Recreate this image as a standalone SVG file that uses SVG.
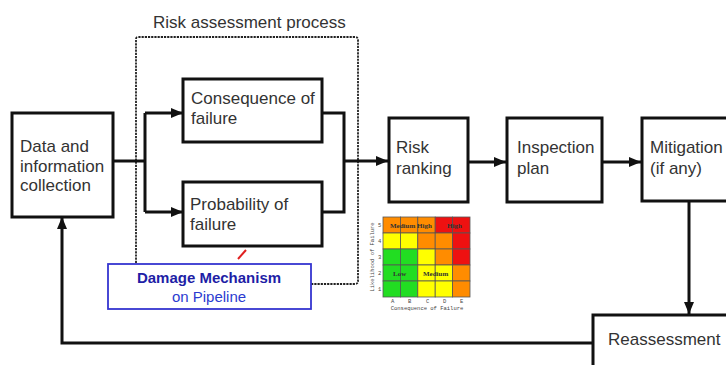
<svg xmlns="http://www.w3.org/2000/svg" width="726" height="365" viewBox="0 0 726 365">
  <style>
    .box { fill: #ffffff; stroke: #111111; stroke-width: 3; }
    .lbl { font-family: "Liberation Sans", Arial, sans-serif; font-size: 17px; fill: #333333; }
    .wire { fill: none; stroke: #111111; stroke-width: 3; }
    .dots { fill: none; stroke: #222222; stroke-width: 1.8; stroke-dasharray: 2.2 1; }
    .cell { stroke: #555555; stroke-width: 0.8; }
    .tiny { font-family: "Liberation Mono", "DejaVu Sans Mono", monospace; font-size: 5.5px; fill: #444444; }
    .mlab { font-family: "Liberation Serif", "Times New Roman", serif; font-size: 7px; font-weight: bold; fill: #333333; }
  </style>
  <defs>
    <marker id="arrow" viewBox="0 0 12 10" refX="12" refY="5" markerWidth="12" markerHeight="10" markerUnits="userSpaceOnUse" orient="auto">
      <path d="M0,0 L12,5 L0,10 z" fill="#111111"/>
    </marker>
  </defs>

  <rect width="726" height="365" fill="#ffffff"/>

  <!-- risk assessment process frame -->
  <g id="process-frame">
    <path class="dots" d="M136,263 V39 Q136,37 138,37 H355 Q358,37 358,40 V281 Q358,284 355,284 H311"/>
    <text class="lbl" x="153" y="28">Risk assessment process</text>
  </g>

  <!-- connectors -->
  <g id="connectors">
    <path class="wire" d="M113,161 H145"/>
    <path class="wire" d="M145,113 V212"/>
    <path class="wire" d="M145,113 H183" marker-end="url(#arrow)"/>
    <path class="wire" d="M145,212 H183" marker-end="url(#arrow)"/>
    <path class="wire" d="M322,113 H344 V212 H322"/>
    <path class="wire" d="M344,161 H388" marker-end="url(#arrow)"/>
    <path class="wire" d="M468,162 H506" marker-end="url(#arrow)"/>
    <path class="wire" d="M602,162 H641" marker-end="url(#arrow)"/>
    <path class="wire" d="M689,201 V314" marker-end="url(#arrow)"/>
    <path class="wire" d="M593,343 H62 V217" marker-end="url(#arrow)"/>
    <path d="M238,259 L246,250" stroke="#e02020" stroke-width="2" fill="none"/>
  </g>

  <g id="data-collection">
    <rect class="box" x="12" y="113" width="101" height="104"/>
    <text class="lbl"><tspan x="20" y="152">Data and</tspan><tspan x="20" y="172">information</tspan><tspan x="20" y="191">collection</tspan></text>
  </g>

  <g id="consequence">
    <rect class="box" x="183" y="79" width="139" height="63"/>
    <text class="lbl"><tspan x="191" y="104">Consequence of</tspan><tspan x="191" y="124">failure</tspan></text>
  </g>

  <g id="probability">
    <rect class="box" x="183" y="182" width="139" height="64"/>
    <text class="lbl"><tspan x="190" y="210">Probability of</tspan><tspan x="190" y="230">failure</tspan></text>
  </g>

  <g id="damage-mechanism">
    <rect x="108" y="264" width="203" height="45" fill="#ffffff" stroke="#3535d0" stroke-width="1.8"/>
    <text x="209" y="283" text-anchor="middle" font-family="'Liberation Sans', Arial, sans-serif" font-size="15" font-weight="bold" fill="#1e1ea6">Damage Mechanism</text>
    <text x="209" y="302" text-anchor="middle" font-family="'Liberation Sans', Arial, sans-serif" font-size="15" fill="#2b3bd0">on Pipeline</text>
  </g>

  <g id="risk-ranking">
    <rect class="box" x="389" y="118" width="79" height="84"/>
    <text class="lbl"><tspan x="396" y="153">Risk</tspan><tspan x="396" y="174">ranking</tspan></text>
  </g>

  <g id="inspection-plan">
    <rect class="box" x="507" y="118" width="95" height="84"/>
    <text class="lbl"><tspan x="517" y="153">Inspection</tspan><tspan x="517" y="174">plan</tspan></text>
  </g>

  <g id="mitigation">
    <rect class="box" x="642" y="118" width="90" height="83"/>
    <text class="lbl"><tspan x="650" y="153">Mitigation</tspan><tspan x="650" y="174">(if any)</tspan></text>
  </g>

  <g id="reassessment">
    <rect class="box" x="593" y="315" width="140" height="60"/>
    <text class="lbl" x="608" y="345">Reassessment</text>
  </g>

  <!-- risk matrix -->
  <g id="risk-matrix">
    <g class="cell">
      <rect x="383" y="217" width="17.4" height="16" fill="#ff8c00"/>
      <rect x="400.4" y="217" width="17.4" height="16" fill="#ff8c00"/>
      <rect x="417.8" y="217" width="17.4" height="16" fill="#ff8c00"/>
      <rect x="435.2" y="217" width="17.4" height="16" fill="#ee1111"/>
      <rect x="452.6" y="217" width="17.4" height="16" fill="#ee1111"/>

      <rect x="383" y="233" width="17.4" height="16" fill="#ffff00"/>
      <rect x="400.4" y="233" width="17.4" height="16" fill="#ffff00"/>
      <rect x="417.8" y="233" width="17.4" height="16" fill="#ff8c00"/>
      <rect x="435.2" y="233" width="17.4" height="16" fill="#ff8c00"/>
      <rect x="452.6" y="233" width="17.4" height="16" fill="#ee1111"/>

      <rect x="383" y="249" width="17.4" height="16" fill="#22dd22"/>
      <rect x="400.4" y="249" width="17.4" height="16" fill="#22dd22"/>
      <rect x="417.8" y="249" width="17.4" height="16" fill="#ffff00"/>
      <rect x="435.2" y="249" width="17.4" height="16" fill="#ff8c00"/>
      <rect x="452.6" y="249" width="17.4" height="16" fill="#ee1111"/>

      <rect x="383" y="265" width="17.4" height="16" fill="#22dd22"/>
      <rect x="400.4" y="265" width="17.4" height="16" fill="#22dd22"/>
      <rect x="417.8" y="265" width="17.4" height="16" fill="#ffff00"/>
      <rect x="435.2" y="265" width="17.4" height="16" fill="#ffff00"/>
      <rect x="452.6" y="265" width="17.4" height="16" fill="#ff8c00"/>

      <rect x="383" y="281" width="17.4" height="16" fill="#22dd22"/>
      <rect x="400.4" y="281" width="17.4" height="16" fill="#22dd22"/>
      <rect x="417.8" y="281" width="17.4" height="16" fill="#ffff00"/>
      <rect x="435.2" y="281" width="17.4" height="16" fill="#ffff00"/>
      <rect x="452.6" y="281" width="17.4" height="16" fill="#ff8c00"/>
    </g>
    <text class="mlab" x="390" y="227.5">Medium High</text>
    <text class="mlab" x="447" y="227.5">High</text>
    <text class="mlab" x="393" y="275.5">Low</text>
    <text class="mlab" x="423" y="275.5">Medium</text>
    <g class="tiny">
      <text x="378" y="227">5</text>
      <text x="378" y="243">4</text>
      <text x="378" y="259">3</text>
      <text x="378" y="275">2</text>
      <text x="378" y="291">1</text>
      <text x="391" y="303">A</text>
      <text x="408" y="303">B</text>
      <text x="426" y="303">C</text>
      <text x="443" y="303">D</text>
      <text x="460" y="303">E</text>
      <text x="427" y="310" text-anchor="middle">Consequence of Failure</text>
      <text transform="translate(374,257) rotate(-90)" text-anchor="middle">Likelihood of Failure</text>
    </g>
  </g>
</svg>
